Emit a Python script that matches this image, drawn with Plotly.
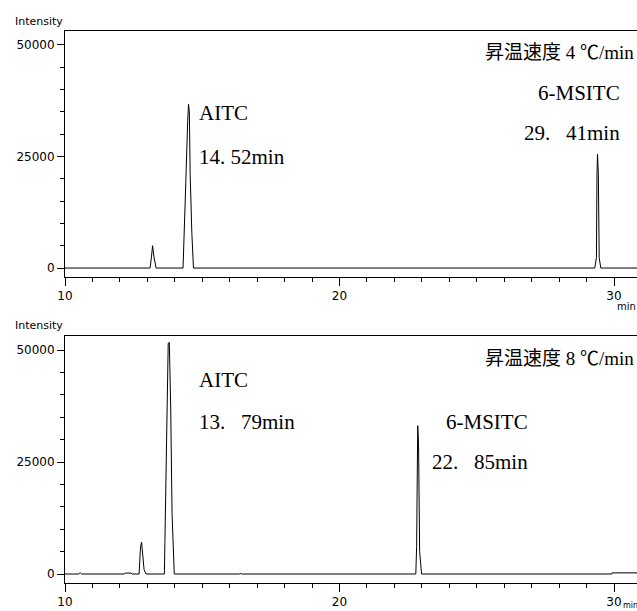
import plotly.graph_objects as go

W, H = 637, 611

# ---- data ----
# Panel 1: heating rate 4 degC/min
time_4 = [10.0, 13.10, 13.15, 13.19, 13.24, 13.32, 14.30, 14.35, 14.40, 14.47, 14.50,
          14.53, 14.56, 14.62, 14.68, 29.30, 29.36, 29.38, 29.40, 29.43, 29.46, 29.52, 30.84]
intensity_4 = [0, 0, 2500, 5000, 2500, 0, 0, 7500, 19000, 33000, 36700,
               35000, 21000, 8000, 0, 0, 2300, 21000, 25500, 21000, 2300, 0, 0]

# Panel 2: heating rate 8 degC/min
time_8 = [10.0, 10.50, 10.55, 10.60, 12.15, 12.20, 12.40, 12.45, 12.70, 12.75, 12.79,
          12.82, 12.88, 12.95, 13.62, 13.64, 13.69, 13.76, 13.80, 13.85, 13.90, 13.98,
          16.35, 16.38, 16.42, 22.78, 22.81, 22.83, 22.85, 22.88, 22.92, 22.99,
          29.92, 29.93, 30.84]
intensity_8 = [0, 0, 300, 0, 0, 200, 200, 0, 0, 6000, 7100,
               5500, 1000, 0, 0, 7250, 26000, 51500, 51700, 37500, 13500, 0,
               0, 150, 0, 0, 6150, 17600, 33100, 29000, 5000, 0,
               0, 250, 250]

x_ticks = [10, 20, 30]
x_tick_labels = ["10", "20", "30"]
y_ticks = [0, 25000, 50000]
y_tick_labels = ["0", "25000", "50000"]

# ---- figure ----
fig = go.Figure()
fig.add_trace(go.Scatter(x=time_4, y=intensity_4, mode="lines",
                         line=dict(color="black", width=1), xaxis="x", yaxis="y",
                         showlegend=False, hoverinfo="skip"))
fig.add_trace(go.Scatter(x=time_8, y=intensity_8, mode="lines",
                         line=dict(color="black", width=1), xaxis="x2", yaxis="y2",
                         showlegend=False, hoverinfo="skip"))

xr = [10, 30 + 23 / 27.45]
yr = [-2009, 53125]
tickfont = dict(family="DejaVu Sans", size=12, color="black")

def xax(anchor):
    return dict(domain=[65 / W, 1], range=xr, anchor=anchor, showline=True, mirror=True,
                linecolor="black", linewidth=1, ticks="outside", ticklen=8, tickwidth=1,
                tickcolor="black", tickvals=x_ticks, ticktext=x_tick_labels,
                minor=dict(dtick=1, ticks="outside", ticklen=4, tickcolor="black", tickwidth=1),
                showgrid=False, zeroline=False, tickfont=tickfont, fixedrange=True)

def yax(anchor, top_px, bot_px):
    return dict(domain=[1 - bot_px / H, 1 - top_px / H], range=yr, anchor=anchor,
                showline=True, linecolor="black", linewidth=1, ticks="outside",
                ticklen=7, tickwidth=1, tickcolor="black", tickvals=y_ticks,
                ticktext=y_tick_labels,
                minor=dict(dtick=5000, ticks="outside", ticklen=4, tickcolor="black", tickwidth=1),
                showgrid=False, zeroline=False, tickfont=tickfont, fixedrange=True)

serif = "Liberation Serif, Noto Sans CJK JP, serif"
ann = []

def txt(text, px, py, anchor, size=21, family=serif):
    ann.append(dict(text=text, x=px / W, y=1 - py / H, xref="paper", yref="paper",
                    xanchor=anchor, yanchor="middle", showarrow=False,
                    font=dict(family=family, size=size, color="black")))

sp = "\u00a0"
# labels
txt("Intensity", 13, 21, "left", 11, "DejaVu Sans")
txt("Intensity", 13, 325, "left", 11, "DejaVu Sans")
txt("min", 615, 306, "left", 10, "DejaVu Sans")
txt("min", 621, 605, "left", 8, "DejaVu Sans")
# top panel
txt("昇温速度 4 ℃/min", 636, 52, "right", 19)
txt("6-MSITC", 622, 93, "right")
txt("29." + sp * 3 + "41min", 622, 133, "right")
txt("AITC", 197, 113, "left")
txt("14." + sp + "52min", 197, 157, "left")
# bottom panel
txt("昇温速度 8 ℃/min", 636, 358, "right", 19)
txt("AITC", 197, 380, "left")
txt("13." + sp * 3 + "79min", 197, 422, "left")
txt("6-MSITC", 444, 422, "left")
txt("22." + sp * 3 + "85min", 430, 462, "left")

fig.update_layout(
    width=W, height=H, margin=dict(l=0, r=0, t=0, b=0, autoexpand=False),
    paper_bgcolor="white", plot_bgcolor="white",
    xaxis=xax("y"), yaxis=yax("x", 31, 277),
    xaxis2=xax("y2"), yaxis2=yax("x2", 336, 583),
    annotations=ann, showlegend=False,
)

fig.write_html("out.html", config=dict(displayModeBar=False),
               post_script="document.body.style.margin='0px';document.body.style.overflow='hidden';")
